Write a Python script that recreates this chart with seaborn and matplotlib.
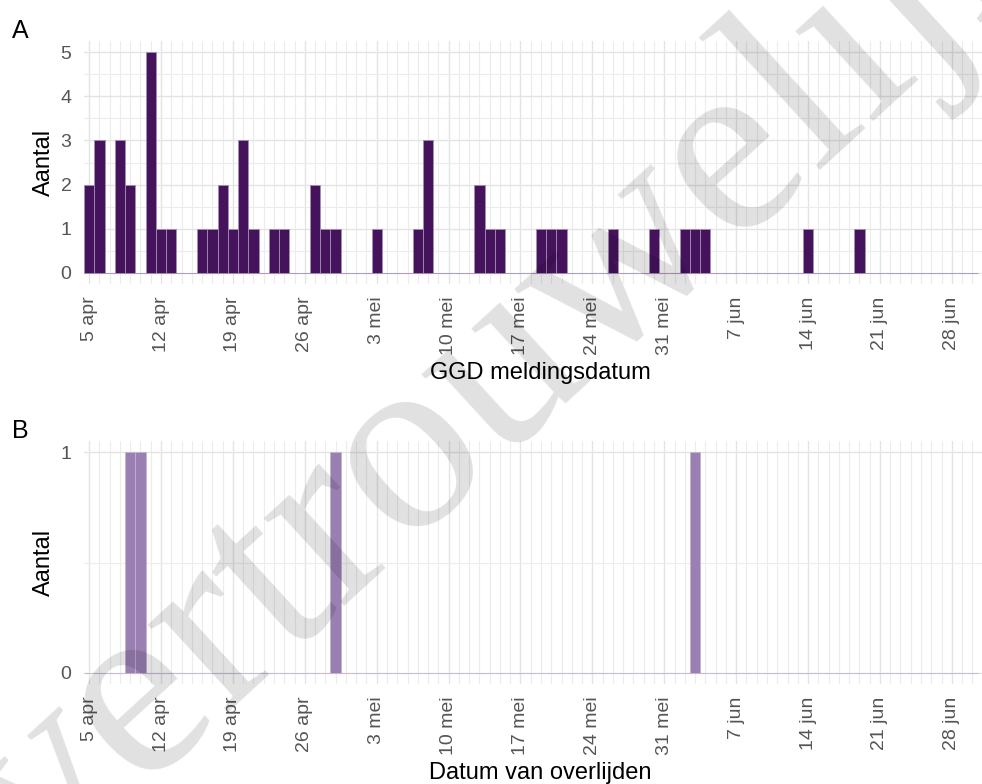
import matplotlib

matplotlib.use("Agg")
import matplotlib.dates as mdates
import matplotlib.pyplot as plt
import numpy as np
import pandas as pd
import seaborn as sns
from matplotlib.ticker import FixedLocator, MultipleLocator

# A: cases per GGD notification date (days without cases are 0)
meld_dates = [
    "2020-04-05", "2020-04-06", "2020-04-08", "2020-04-09", "2020-04-11",
    "2020-04-12", "2020-04-13", "2020-04-16", "2020-04-17", "2020-04-18",
    "2020-04-19", "2020-04-20", "2020-04-21", "2020-04-23", "2020-04-24",
    "2020-04-27", "2020-04-28", "2020-04-29", "2020-05-03", "2020-05-07",
    "2020-05-08", "2020-05-13", "2020-05-14", "2020-05-15", "2020-05-19",
    "2020-05-20", "2020-05-21", "2020-05-26", "2020-05-30", "2020-06-02",
    "2020-06-03", "2020-06-04", "2020-06-14", "2020-06-19",
]
meld_counts = [
    2, 3, 3, 2, 5,
    1, 1, 1, 1, 2,
    1, 3, 1, 1, 1,
    2, 1, 1, 1, 1,
    3, 2, 1, 1, 1,
    1, 1, 1, 1, 1,
    1, 1, 1, 1,
]

# B: deaths per date of death
death_dates = ["2020-04-09", "2020-04-10", "2020-04-29", "2020-06-03"]
death_counts = [1, 1, 1, 1]

period_start = "2020-04-05"
period_end = "2020-06-30"

tick_dates = [
    "2020-04-05", "2020-04-12", "2020-04-19", "2020-04-26", "2020-05-03",
    "2020-05-10", "2020-05-17", "2020-05-24", "2020-05-31", "2020-06-07",
    "2020-06-14", "2020-06-21", "2020-06-28",
]
tick_labels = [
    "5 apr", "12 apr", "19 apr", "26 apr", "3 mei",
    "10 mei", "17 mei", "24 mei", "31 mei", "7 jun",
    "14 jun", "21 jun", "28 jun",
]


def daily_frame(dates: list[str], counts: list[int]) -> pd.DataFrame:
    days = pd.date_range(period_start, period_end, freq="D")
    s = pd.Series(counts, index=pd.to_datetime(dates)).reindex(days, fill_value=0)
    return pd.DataFrame({"day": mdates.date2num(days), "n": s.to_numpy()})


def style_axis(ax, ymax: float, step: float, pad: float) -> None:
    start = mdates.date2num(pd.Timestamp(period_start))
    ax.set_xlim(start - 0.5, start + 88.3)
    ax.set_ylim(-pad, ymax + pad)
    ax.yaxis.set_major_locator(MultipleLocator(step))
    ax.yaxis.set_minor_locator(MultipleLocator(step / 2))
    ax.xaxis.set_major_locator(FixedLocator(mdates.date2num(pd.to_datetime(tick_dates))))
    ax.xaxis.set_minor_locator(MultipleLocator(1))
    ax.set_xticklabels(tick_labels, rotation=90)
    ax.tick_params(which="both", length=0, labelsize=14, labelcolor="#555555")
    ax.tick_params(axis="x", pad=9)
    ax.tick_params(axis="y", pad=9)
    ax.grid(which="major", color="#e4e4e4", linewidth=1.0)
    ax.grid(which="minor", color="#ececec", linewidth=0.8)
    ax.set_axisbelow(True)
    for sp in ax.spines.values():
        sp.set_visible(False)
    ax.set_ylabel("Aantal", fontsize=17, color="black", labelpad=4)


sns.set_theme(style="whitegrid")
plt.rcParams["font.family"] = ["Liberation Sans", "DejaVu Sans"]

fig = plt.figure(figsize=(9.82, 7.84), dpi=100)
W, H = 982, 784


def px_axes(left, top, right, bottom):
    return fig.add_axes([left / W, 1 - bottom / H, (right - left) / W, (bottom - top) / H])


ax_a = px_axes(84, 41, 996, 284)
ax_b = px_axes(84, 441, 996, 684)

df_a = daily_frame(meld_dates, meld_counts)
df_b = daily_frame(death_dates, death_counts)

sns.histplot(data=df_a, x="day", weights="n", discrete=True, shrink=1,
             color="#44135c", edgecolor="#a48eb6", linewidth=0.6, alpha=1, ax=ax_a)
sns.histplot(data=df_b, x="day", weights="n", discrete=True, shrink=1,
             color="#9a80b2", edgecolor="#c4b2cf", linewidth=0.6, alpha=1, ax=ax_b)

style_axis(ax_a, 5, 1, 0.25)
style_axis(ax_b, 1, 1, 0.05)
ax_a.set_xlabel("GGD meldingsdatum", fontsize=17, color="black", labelpad=5)
ax_b.set_xlabel("Datum van overlijden", fontsize=17, color="black", labelpad=5)

fig.text(12 / W, 1 - 38 / H, "A", fontsize=18, color="black")
fig.text(12 / W, 1 - 438 / H, "B", fontsize=18, color="black")

# watermark
fig.text(45 / W, 1 - 880 / H, "vertrouwelijk", fontsize=186, family="Liberation Serif",
         color="black", alpha=0.12, rotation=42.5, rotation_mode="anchor",
         ha="left", va="baseline", zorder=10)

fig.savefig("out.png", dpi=100)
plt.close(fig)
